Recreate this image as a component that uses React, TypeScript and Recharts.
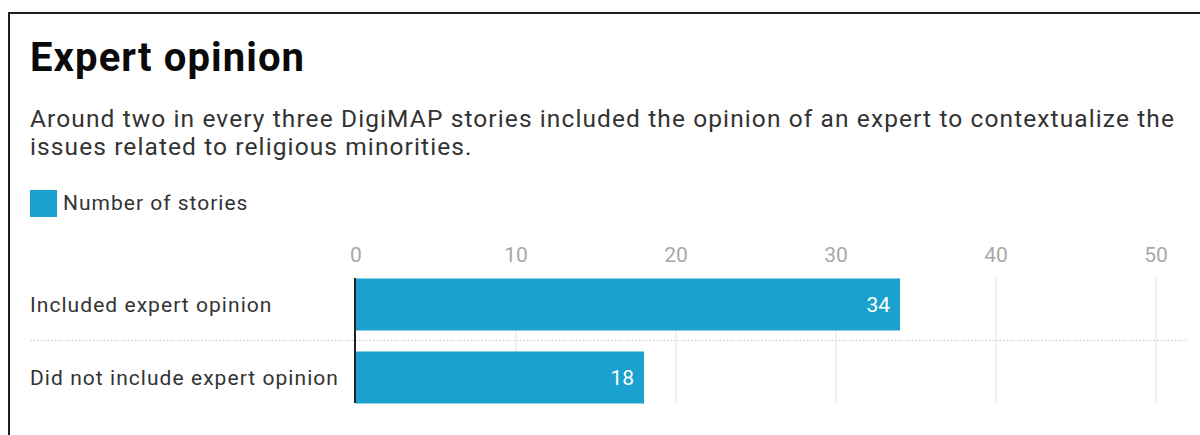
import { Bar, BarChart, CartesianGrid, LabelList, XAxis, YAxis } from 'recharts';

const TITLE = 'Expert opinion';
const SUBTITLE =
  'Around two in every three DigiMAP stories included the opinion of an expert to contextualize the issues related to religious minorities.';
const SERIES_NAME = 'Number of stories';

const CATEGORIES = ['Included expert opinion', 'Did not include expert opinion'];
const STORIES = [34, 18];
const X_TICKS = [0, 10, 20, 30, 40, 50];

const BAR_COLOR = '#1aa1ce';
const TEXT_DARK = '#333333';
const TICK_GREY = '#a8a8a8';
const GRID_GREY = '#e2e2e2';
const FONT = 'Roboto, "Noto Sans", sans-serif';

const BAR_SIZE = 52;
const Y_WIDTH = 326;
const LABEL_X = 30;

const data = CATEGORIES.map((name, i) => ({ name, value: STORIES[i] }));

function CategoryTick(props: any) {
  const { x, y, payload } = props;
  return (
    <text
      x={x - Y_WIDTH}
      y={y}
      dy="0.36em"
      textAnchor="start"
      fill={TEXT_DARK}
      fontSize={21}
      letterSpacing={1.05}
      fontFamily={FONT}
    >
      {payload.value}
    </text>
  );
}

// vertical grid only spans the bars, the 0 line is the dark axis
function VerticalLine(props: any) {
  const gap = (props.height / CATEGORIES.length - BAR_SIZE) / 2;
  const isZero = props.index === 0;
  return (
    <line
      key={props.key}
      x1={isZero ? props.x1 - 1 : props.x1}
      x2={isZero ? props.x2 - 1 : props.x2}
      y1={props.y1 + gap}
      y2={props.y2 - gap}
      stroke={isZero ? '#222222' : GRID_GREY}
      strokeWidth={isZero ? 2 : 1}
    />
  );
}

// one dotted separator between the two rows
function HorizontalLine(props: any) {
  if (props.index !== 0) return <g key={props.key} />;
  const mid = props.y + props.height / 2;
  return (
    <line
      key={props.key}
      x1={LABEL_X}
      x2={props.x + props.width + 32}
      y1={mid}
      y2={mid}
      stroke="#c4c4c4"
      strokeWidth={1}
      strokeDasharray="1.5 2"
    />
  );
}

export default function App() {
  return (
    <div
      style={{
        position: 'absolute',
        left: 0,
        top: 0,
        width: 1200,
        height: 435,
        overflow: 'hidden',
        background: '#fff',
        fontFamily: FONT,
      }}
    >
      <div
        style={{
          position: 'absolute',
          left: 8,
          top: 12,
          width: 1400,
          height: 600,
          borderLeft: '2px solid #1e1e1e',
          borderTop: '2px solid #1e1e1e',
        }}
      />
      <div
        style={{
          position: 'absolute',
          left: LABEL_X,
          top: 38,
          fontSize: 40,
          lineHeight: '40px',
          fontWeight: 700,
          letterSpacing: 1.1,
          color: '#0a0a0a',
          whiteSpace: 'nowrap',
        }}
      >
        {TITLE}
      </div>
      <div
        style={{
          position: 'absolute',
          left: LABEL_X,
          top: 105,
          width: 1162,
          fontSize: 24.5,
          lineHeight: '28px',
          letterSpacing: 1.1,
          color: TEXT_DARK,
        }}
      >
        {SUBTITLE}
      </div>
      <div style={{ position: 'absolute', left: LABEL_X, top: 190, display: 'flex', alignItems: 'center' }}>
        <div style={{ width: 27, height: 27, background: BAR_COLOR }} />
        <span style={{ marginLeft: 6, fontSize: 21, lineHeight: '27px', letterSpacing: 1, color: TEXT_DARK }}>
          {SERIES_NAME}
        </span>
      </div>
      <div style={{ position: 'absolute', left: 0, top: 230 }}>
        <BarChart
          width={1200}
          height={205}
          data={data}
          layout="vertical"
          margin={{ top: 0, right: 44, bottom: 21.5, left: LABEL_X }}
        >
          <CartesianGrid vertical={VerticalLine} horizontal={HorizontalLine} />
          <XAxis
            type="number"
            orientation="top"
            domain={[0, 50]}
            ticks={X_TICKS}
            height={37.5}
            axisLine={false}
            tickLine={false}
            tickSize={0}
            tickMargin={5.5}
            tick={{ fill: TICK_GREY, fontSize: 21, fontFamily: FONT }}
          />
          <YAxis
            type="category"
            dataKey="name"
            width={Y_WIDTH}
            axisLine={false}
            tickLine={false}
            tickSize={0}
            tickMargin={0}
            tick={<CategoryTick />}
          />
          <Bar dataKey="value" name={SERIES_NAME} fill={BAR_COLOR} barSize={BAR_SIZE} isAnimationActive={false}>
            <LabelList
              dataKey="value"
              position="insideRight"
              offset={10}
              fill="#ffffff"
              fontSize={21}
              fontFamily={FONT}
            />
          </Bar>
        </BarChart>
      </div>
    </div>
  );
}
